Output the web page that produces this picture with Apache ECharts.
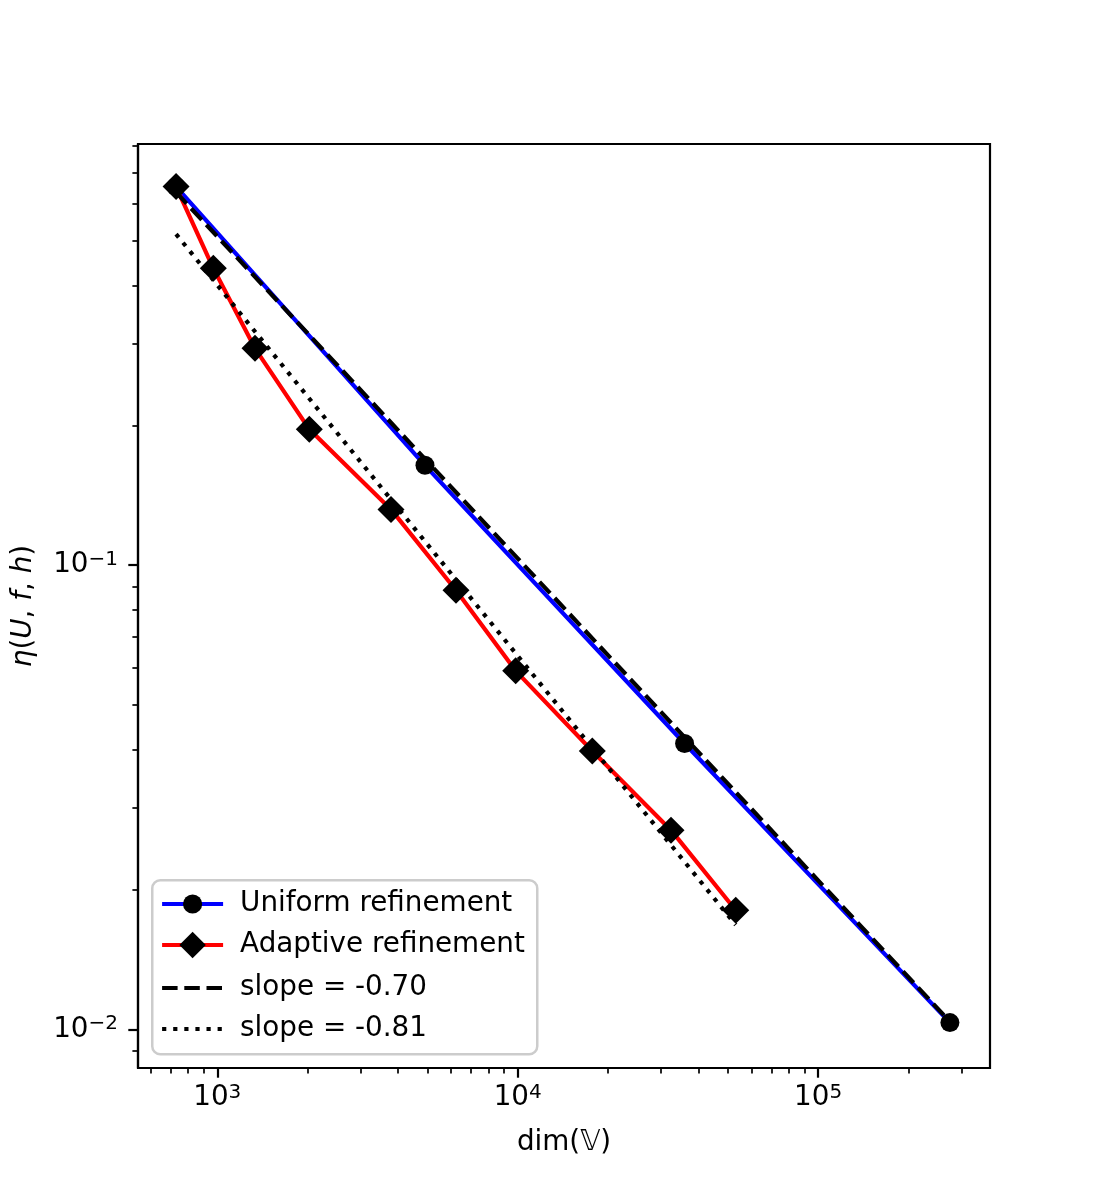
<!DOCTYPE html>
<html>
<head>
<meta charset="utf-8">
<script src="https://cdn.jsdelivr.net/npm/echarts@6/dist/echarts.min.js"></script>
<style>
  html, body { margin: 0; padding: 0; background: #fff; }
  #chart { width: 1100px; height: 1200px; }
</style>
</head>
<body>
<div id="chart"></div>
<script>
// data
const uniformDofs = [729, 4913, 35937, 274625];
const uniformEta = [0.653, 0.164, 0.0413, 0.01035];

const adaptiveDofs = [729, 970, 1335, 2025, 3786, 6232, 9847, 17718, 32380, 53180];
const adaptiveEta = [0.653, 0.4355, 0.2929, 0.196, 0.1318, 0.0883, 0.0592, 0.0398, 0.02687, 0.01807];

// reference slopes (end points)
const slopeADofs = [729, 274625];
const slopeAEta = [0.635, 0.0104];
const slopeBDofs = [729, 53180];
const slopeBEta = [0.516, 0.0168];

const seriesNames = ['Uniform refinement', 'Adaptive refinement', 'slope = -0.70', 'slope = -0.81'];

// ticks
const xMajorTicks = [1e3, 1e4, 1e5];
const xMinorTicks = [600, 700, 800, 900, 2000, 3000, 4000, 5000, 6000, 7000, 8000, 9000,
  20000, 30000, 40000, 50000, 60000, 70000, 80000, 90000, 200000, 300000];
const yMajorTicks = [0.01, 0.1];
const yMinorTicks = [0.009, 0.02, 0.03, 0.04, 0.05, 0.06, 0.07, 0.08, 0.09,
  0.2, 0.3, 0.4, 0.5, 0.6, 0.7, 0.8];

const xRange = [544.6, 373400];
const yRange = [0.008265, 0.8066];

const FONT = 'DejaVu Sans';
const FS = 27.8;
const LW = 4.2;

const zip = (xs, ys) => xs.map((x, i) => [x, ys[i]]);

const powLabel = v => {
  const e = Math.round(Math.log10(v));
  return '10{sup|' + String(e).replace('-', '\u2212') + '}';
};
const labelRich = {
  sup: { fontFamily: FONT, fontSize: 20, lineHeight: 16, padding: [0, 0, 11, 0], color: '#000' }
};

const chart = echarts.init(document.getElementById('chart'), null, { renderer: 'canvas' });

const majorAxis = (range, ticks, extra) => Object.assign({
  type: 'log',
  logBase: 10,
  min: range[0],
  max: range[1],
  axisLine: { show: true, lineStyle: { color: '#000', width: 2.2 } },
  axisTick: { show: true, customValues: ticks, length: 9.7, lineStyle: { color: '#000', width: 2.2 } },
  splitLine: { show: false },
  minorTick: { show: false },
  minorSplitLine: { show: false }
}, extra);

const minorAxis = (range, ticks, extra) => Object.assign({
  type: 'log',
  logBase: 10,
  min: range[0],
  max: range[1],
  axisLine: { show: false },
  axisTick: { show: true, customValues: ticks, length: 5.6, lineStyle: { color: '#000', width: 1.7 } },
  axisLabel: { show: false },
  splitLine: { show: false }
}, extra);

const legendText = { fontFamily: FONT, fontSize: FS, color: '#000', lineHeight: 30, padding: [0, 0, 0, 12] };

chart.setOption({
  animation: false,
  backgroundColor: '#fff',
  textStyle: { fontFamily: FONT },
  grid: {
    left: 138, right: 110, top: 144, bottom: 132,
    show: true, borderColor: '#000', borderWidth: 2.2, backgroundColor: 'transparent'
  },
  xAxis: [
    majorAxis(xRange, xMajorTicks, {
      position: 'bottom',
      name: 'dim(\u{1D54D})',
      nameLocation: 'middle',
      nameGap: 61,
      nameTextStyle: { fontFamily: FONT, fontSize: FS, color: '#000' },
      axisLabel: {
        show: true, customValues: xMajorTicks, formatter: powLabel, margin: 16,
        fontFamily: FONT, fontSize: FS, color: '#000', rich: labelRich
      }
    }),
    minorAxis(xRange, xMinorTicks, { position: 'bottom' })
  ],
  yAxis: [
    majorAxis(yRange, yMajorTicks, {
      position: 'left',
      name: '{i|\u03b7}({i|U}, {i|f}, {i|h})',
      nameLocation: 'middle',
      nameRotate: 90,
      nameGap: 100,
      nameTextStyle: {
        fontFamily: FONT, fontSize: FS, color: '#000',
        rich: { i: { fontFamily: FONT, fontSize: FS, fontStyle: 'italic', color: '#000' } }
      },
      axisLabel: {
        show: true, customValues: yMajorTicks, formatter: powLabel, margin: 20,
        fontFamily: FONT, fontSize: FS, color: '#000', rich: labelRich
      }
    }),
    minorAxis(yRange, yMinorTicks, { position: 'left' })
  ],
  legend: [
    {
      data: [{ name: seriesNames[0], lineStyle: { width: LW } }],
      orient: 'vertical', left: 160, top: 889, padding: 0,
      itemWidth: 61, itemHeight: 24,
      textStyle: legendText,
      z: 10
    },
    {
      data: [{ name: seriesNames[1], lineStyle: { width: LW } }],
      orient: 'vertical', left: 160, top: 930, padding: 0,
      itemWidth: 61, itemHeight: 33,
      textStyle: legendText,
      z: 10
    },
    {
      data: [
        { name: seriesNames[2], itemStyle: { opacity: 0 }, lineStyle: { width: LW } },
        { name: seriesNames[3], itemStyle: { opacity: 0 }, lineStyle: { width: LW } }
      ],
      orient: 'vertical', left: 160, top: 973, padding: 0,
      itemWidth: 61, itemHeight: 24, itemGap: 11,
      textStyle: legendText,
      z: 10
    }
  ],
  graphic: [
    {
      type: 'rect',
      left: 151, top: 879,
      shape: { width: 385, height: 174, r: 8 },
      style: { fill: 'rgba(255,255,255,0.8)', stroke: '#cccccc', lineWidth: 2.5 },
      z: 5
    }
  ],
  series: [
    {
      name: seriesNames[0],
      type: 'line',
      data: zip(uniformDofs, uniformEta),
      symbol: 'circle', symbolSize: 19,
      itemStyle: { color: '#000' },
      lineStyle: { color: '#0000ff', width: LW },
      emphasis: { disabled: true },
      z: 2
    },
    {
      name: seriesNames[1],
      type: 'line',
      data: zip(adaptiveDofs, adaptiveEta),
      symbol: 'diamond', symbolSize: 27,
      itemStyle: { color: '#000' },
      lineStyle: { color: '#ff0000', width: LW },
      emphasis: { disabled: true },
      z: 3
    },
    {
      name: seriesNames[2],
      type: 'line',
      data: zip(slopeADofs, slopeAEta),
      symbol: 'none',
      itemStyle: { color: '#000', opacity: 0 },
      lineStyle: { color: '#000', width: LW, type: [15.5, 6.7] },
      emphasis: { disabled: true },
      z: 4
    },
    {
      name: seriesNames[3],
      type: 'line',
      data: zip(slopeBDofs, slopeBEta),
      symbol: 'none',
      itemStyle: { color: '#000', opacity: 0 },
      lineStyle: { color: '#000', width: LW, type: [4.2, 6.9] },
      emphasis: { disabled: true },
      z: 4
    }
  ]
});
</script>
</body>
</html>
